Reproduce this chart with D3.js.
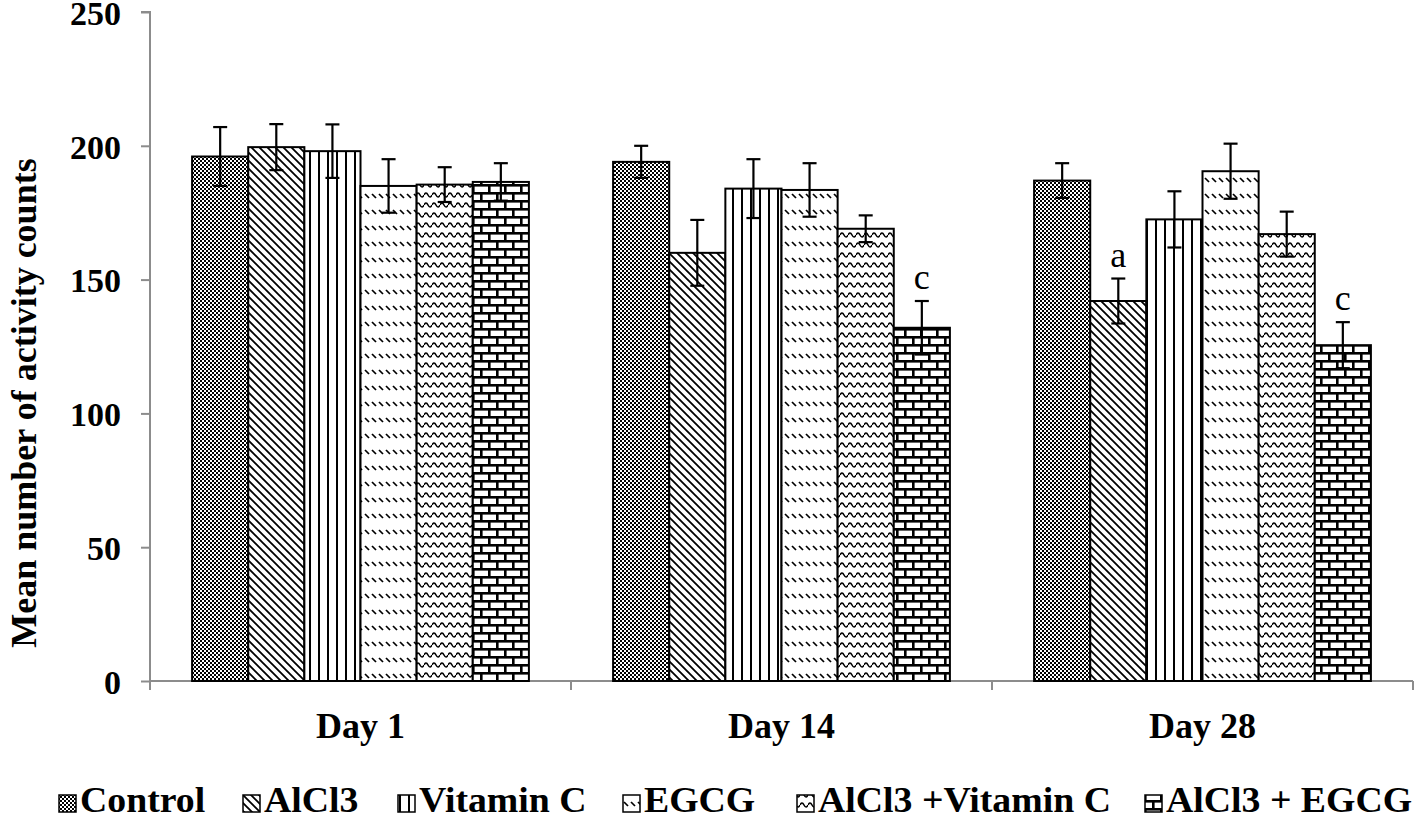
<!DOCTYPE html>
<html>
<head>
<meta charset="utf-8">
<script src="https://cdn.jsdelivr.net/npm/d3@7"></script>
<style>
  html, body { margin: 0; padding: 0; background: #fff; }
  svg { display: block; }
  text { font-family: "Times New Roman", "Liberation Serif", serif; }
</style>
</head>
<body>
<svg id="chart" width="1418" height="819"></svg>
<script>
// ---- data ----
const days = ["Day 1", "Day 14", "Day 28"];
const groups = ["Control", "AlCl3", "Vitamin C", "EGCG", "AlCl3 +Vitamin C", "AlCl3 + EGCG"];
const controlMean   = [196, 194, 187];
const alcl3Mean     = [199.5, 160, 142];
const vitCMean      = [198, 184, 172.5];
const egcgMean      = [185, 183.5, 190.5];
const alVitCMean    = [185.5, 169, 167];
const alEgcgMean    = [186.5, 132, 125.5];
const controlErr    = [11, 6, 6.5];
const alcl3Err      = [8.6, 12.3, 8.4];
const vitCErr       = [10, 11, 10.5];
const egcgErr       = [10, 10, 10.3];
const alVitCErr     = [6.5, 5, 8.4];
const alEgcgErr     = [7, 10, 8.6];
const yTicks = [0, 50, 100, 150, 200, 250];
const annotDay   = ["Day 14", "Day 28", "Day 28"];
const annotGroup = ["AlCl3 + EGCG", "AlCl3", "AlCl3 + EGCG"];
const annotText  = ["c", "a", "c"];

const means = [controlMean, alcl3Mean, vitCMean, egcgMean, alVitCMean, alEgcgMean];
const errs  = [controlErr, alcl3Err, vitCErr, egcgErr, alVitCErr, alEgcgErr];

const rows = [];
days.forEach((d, di) => groups.forEach((g, gi) => {
  rows.push({ day: d, group: g, gi, value: means[gi][di], err: errs[gi][di] });
}));

// ---- layout ----
const svg = d3.select("#chart");
const pLeft = 150, pRight = 1413, pTop = 12, pBottom = 681;
const axisColor = "#8c8c8c";
const FS = 36;

const x0 = d3.scaleBand().domain(days).range([pLeft, pRight]).paddingInner(0).paddingOuter(0);
const x1 = d3.scaleBand().domain(groups).range([0, x0.bandwidth()]).paddingInner(0).paddingOuter(0.75);
const y = d3.scaleLinear().domain([0, 250]).range([pBottom, pTop]);

// ---- patterns ----
const defs = svg.append("defs");
function pat(id, w, h, build) {
  const p = defs.append("pattern").attr("id", id).attr("patternUnits", "userSpaceOnUse")
    .attr("width", w).attr("height", h);
  p.append("rect").attr("width", w).attr("height", h).attr("fill", "#fff");
  build(p);
}
// 0 Control: fine checker
pat("p0", 4, 4, p => {
  p.append("rect").attr("x", 0).attr("y", 0).attr("width", 2).attr("height", 2).attr("fill", "#000");
  p.append("rect").attr("x", 2).attr("y", 2).attr("width", 2).attr("height", 2).attr("fill", "#000");
});
// 1 AlCl3: backslash diagonals
pat("p1", 8, 8, p => {
  p.append("path").attr("d", "M-2,-2 L10,10 M-2,6 L2,10 M6,-2 L10,2")
    .attr("stroke", "#000").attr("stroke-width", 1.8);
});
// 2 Vitamin C: vertical lines
pat("p2", 9, 9, p => {
  p.append("rect").attr("x", 3).attr("y", 0).attr("width", 2).attr("height", 9).attr("fill", "#000");
});
// 3 EGCG: rows of short dashes
pat("p3", 7, 16, p => {
  p.append("path").attr("d", "M1,2 L5,6").attr("stroke", "#000").attr("stroke-width", 1.7);
});
// 4 AlCl3 + Vitamin C: waves
pat("p4", 8, 10, p => {
  p.append("path").attr("d", "M0,5 Q2,1 4,5 T8,5").attr("fill", "none")
    .attr("stroke", "#000").attr("stroke-width", 1.6);
});
// 5 AlCl3 + EGCG: bricks
pat("p5", 16, 16, p => {
  p.append("rect").attr("x", 0).attr("y", 0).attr("width", 16).attr("height", 2.6).attr("fill", "#000");
  p.append("rect").attr("x", 0).attr("y", 8).attr("width", 16).attr("height", 2.6).attr("fill", "#000");
  p.append("rect").attr("x", 0).attr("y", 0).attr("width", 2.6).attr("height", 8).attr("fill", "#000");
  p.append("rect").attr("x", 8).attr("y", 8).attr("width", 2.6).attr("height", 8).attr("fill", "#000");
});

// ---- axes ----
const yAxis = d3.axisLeft(y).tickValues(yTicks).tickSize(9).tickPadding(20).tickFormat(d3.format("d"));
const gy = svg.append("g").attr("transform", `translate(${pLeft},0)`).call(yAxis);
gy.select(".domain").attr("stroke", axisColor).attr("stroke-width", 2)
  .attr("d", `M-9,${pTop}H0V${pBottom}`);
gy.selectAll(".tick line").attr("stroke", axisColor).attr("stroke-width", 2);
gy.selectAll(".tick text").attr("fill", "#000").attr("font-size", 34).attr("font-weight", "bold")
  .attr("dy", "0.36em")
  .attr("font-family", '"Times New Roman","Liberation Serif",serif');

// x axis line
svg.append("line").attr("x1", pLeft).attr("x2", pRight).attr("y1", pBottom).attr("y2", pBottom)
  .attr("stroke", axisColor).attr("stroke-width", 2);
const boundaries = days.map(d => x0(d)).concat([x0(days[days.length - 1]) + x0.bandwidth()]);
svg.selectAll(".xtick").data(boundaries).enter().append("line")
  .attr("x1", d => d).attr("x2", d => d).attr("y1", pBottom).attr("y2", pBottom + 9)
  .attr("stroke", axisColor).attr("stroke-width", 2);

svg.selectAll(".xlab").data(days).enter().append("text")
  .attr("x", d => x0(d) + x0.bandwidth() / 2).attr("y", 738)
  .attr("text-anchor", "middle").attr("font-size", FS).attr("font-weight", "bold").text(d => d);

// y title
svg.append("text").attr("transform", `translate(36,403) rotate(-90)`)
  .attr("text-anchor", "middle").attr("font-size", FS).attr("font-weight", "bold")
  .text("Mean number of activity counts");

// ---- bars ----
const gBars = svg.append("g");
gBars.selectAll("rect").data(rows).enter().append("rect")
  .attr("x", d => x0(d.day) + x1(d.group))
  .attr("y", d => y(d.value))
  .attr("width", x1.bandwidth())
  .attr("height", d => y(0) - y(d.value))
  .attr("fill", d => `url(#p${d.gi})`)
  .attr("stroke", "#000").attr("stroke-width", 2);

// ---- error bars ----
const gErr = svg.append("g").attr("stroke", "#000").attr("stroke-width", 2.2);
rows.forEach(d => {
  const cx = x0(d.day) + x1(d.group) + x1.bandwidth() / 2;
  const y1 = y(d.value + d.err), y2 = y(d.value - d.err);
  gErr.append("line").attr("x1", cx).attr("x2", cx).attr("y1", y1).attr("y2", y2);
  gErr.append("line").attr("x1", cx - 7).attr("x2", cx + 7).attr("y1", y1).attr("y2", y1);
  gErr.append("line").attr("x1", cx - 7).attr("x2", cx + 7).attr("y1", y2).attr("y2", y2);
});

// ---- annotations ----
annotText.forEach((t, i) => {
  const r = rows.find(d => d.day === annotDay[i] && d.group === annotGroup[i]);
  const cx = x0(r.day) + x1(r.group) + x1.bandwidth() / 2;
  svg.append("text").attr("x", cx).attr("y", y(r.value + r.err) - 12)
    .attr("text-anchor", "middle").attr("font-size", 36).text(t);
});

// ---- legend ----
const legendX = [59, 243, 398, 623, 797, 1145];
const lg = svg.append("g");
groups.forEach((g, i) => {
  lg.append("rect").attr("x", legendX[i]).attr("y", 795).attr("width", 17).attr("height", 17)
    .attr("fill", `url(#p${i})`).attr("stroke", "#000").attr("stroke-width", 1.5);
  lg.append("text").attr("transform", `translate(${legendX[i] + 21},812) scale(1.08,1)`)
    .attr("font-size", 35).attr("font-weight", "bold").text(g);
});
</script>
</body>
</html>
